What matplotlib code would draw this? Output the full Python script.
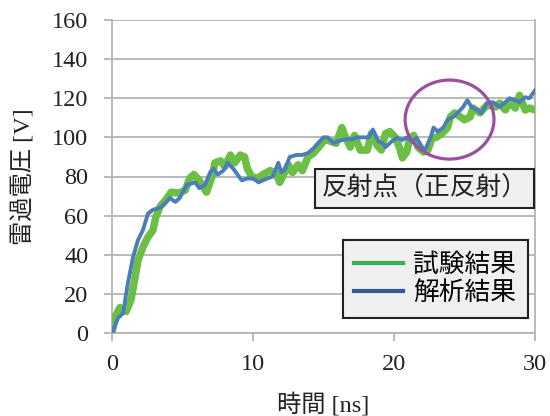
import numpy as np
import matplotlib
matplotlib.use('Agg')
import matplotlib.pyplot as plt
from matplotlib.lines import Line2D
from matplotlib.patches import Ellipse

# test result (green)
t_test = [0, 0.2, 0.57, 1.0, 1.35, 1.6, 1.84, 2.2, 2.55, 2.9, 3.1, 3.4, 3.8, 4.2, 4.7,
          5.2, 5.5, 5.8, 6.2, 6.7, 7.1, 7.3, 7.7, 8.0, 8.4, 8.7, 9.1, 9.4, 9.6, 9.9,
          10.3, 10.7, 11.2, 11.6, 11.9, 12.3, 12.5, 12.8, 13.2, 13.5, 13.9, 14.3, 14.6,
          15.1, 15.5, 15.9, 16.3, 16.5, 16.9, 17.2, 17.6, 18.1, 18.4, 18.8, 19.1, 19.4,
          19.7, 20.1, 20.4, 20.6, 20.9, 21.1, 21.4, 21.7, 22.1, 22.4, 22.7, 23.0, 23.4,
          23.8, 24.0, 24.3, 24.7, 25.0, 25.4, 25.6, 26.1, 26.6, 27.2, 27.5, 27.9, 28.2,
          28.6, 28.9, 29.3, 29.6, 30]
v_test = [0, 8, 13, 11, 17, 27, 37, 44, 49, 52.5, 59, 64.5, 68, 72, 71.5,
          73, 79, 81, 78, 72, 80, 87, 88, 85, 91, 87, 91, 90, 84, 80,
          79, 81, 83, 82, 77, 83, 86, 82, 86, 83, 90, 92, 94.5,
          99, 98, 97, 105, 101, 95, 101, 93.5, 93.5, 102, 96, 93.5, 102,
          103, 100, 94.5, 89.5, 92.5, 98.7, 101, 95, 92.5, 93.5, 99.7, 100, 102,
          105, 110.5, 112.5, 110.5, 109, 110.5, 115, 112.5, 116.5, 115.5, 117.5, 114, 118,
          115, 121.5, 114, 115, 114]

# analysis result (blue)
t_sim = [0, 0.43, 0.78, 1.13, 1.5, 1.84, 2.2, 2.55, 2.9, 3.4, 3.8, 4.1, 4.5, 4.8, 5.3,
         5.9, 6.2, 6.6, 6.95, 7.2, 7.5, 7.9, 8.2, 8.6, 8.9, 9.2, 9.6, 10, 10.4, 11,
         11.4, 11.8, 12.0, 12.3, 12.6, 13.1, 13.5, 13.9, 14.3, 14.6, 15, 15.3, 15.7, 16,
         16.5, 17, 17.4, 17.8, 18.2, 18.5, 18.9, 19.2, 19.4, 19.8, 20.2, 20.6, 20.9,
         21.3, 21.6, 22, 22.2, 22.6, 22.8, 23.1, 23.5, 23.8, 24.2, 24.5, 24.9, 25.2,
         25.5, 25.9, 26.2, 26.6, 27, 27.5, 27.9, 28.2, 28.6, 28.9, 29.3, 29.6, 30]
v_sim = [0, 7.7, 10, 25.6, 39, 47.5, 52.7, 61, 63, 64, 66.5, 69, 67, 69, 75.7,
         77, 74, 75.7, 82, 84, 81, 83, 87, 84, 81, 78, 79, 79, 77, 79,
         80, 87, 82, 84, 90, 91, 91, 92, 94.5, 97, 100, 100, 97, 98,
         99, 99, 100, 100, 100, 104, 98, 97, 95, 97.7, 99.7, 98.7, 100,
         97.7, 99.7, 95, 93.5, 100, 105, 103, 105, 109, 110.5, 112.5, 115.5, 119,
         115.5, 114, 112.5, 117.5, 118, 115.5, 118, 120, 119, 118, 120.5, 120, 124]

x_ticks = [0, 10, 20, 30]
y_ticks = [0, 20, 40, 60, 80, 100, 120, 140, 160]
legend_labels = ['試験結果', '解析結果']
note_text = '反射点（正反射）'
circle_center = (23.94, 109.1)
circle_size = (6.3, 40.4)

fam = ['Liberation Serif', 'Noto Sans CJK JP']
cjk = ['Noto Sans CJK JP', 'Liberation Serif']
grid_c = '#B4B4B4'

fig = plt.figure(figsize=(5.5, 4.16), dpi=100)
ax = fig.add_axes([112 / 550, 83 / 416, 423 / 550, 313 / 416])

ax.plot(t_test, v_test, color='#6CBF45', lw=5.4, solid_joinstyle='round', solid_capstyle='round', zorder=3)
ax.plot(t_sim, v_sim, color='#4A7EBB', lw=2.8, solid_joinstyle='round', zorder=4)

ax.set_xlim(0, 30)
ax.set_ylim(0, 160)
ax.set_xticks(x_ticks)
ax.set_yticks(y_ticks)
ax.yaxis.grid(True, color=grid_c, lw=1.3)
ax.set_axisbelow(True)
for s in ['left', 'bottom', 'right']:
    ax.spines[s].set_color(grid_c)
    ax.spines[s].set_linewidth(1.3)
ax.spines['top'].set_visible(False)
ax.tick_params(axis='both', colors=grid_c, width=1.3, length=6, direction='out')
ax.tick_params(axis='y', pad=11)
ax.tick_params(axis='x', pad=9)
for lab in ax.get_xticklabels() + ax.get_yticklabels():
    lab.set_family(fam)
    lab.set_fontsize(17.5)
    lab.set_color('#222222')

ax.set_xlabel('時間 [ns]', family=fam, fontsize=17.5, color='#222222', labelpad=13)
ax.set_ylabel('雷過電圧 [V]', family=fam, fontsize=17.5, color='#222222', labelpad=12)

ell = Ellipse(circle_center, circle_size[0], circle_size[1], fill=False,
              edgecolor='#9B4FA0', lw=2.3, zorder=5)
ax.add_patch(ell)

ax.text(0.738, 0.463, note_text, transform=ax.transAxes, ha='center', va='center',
        family=cjk, fontsize=18.5, color='#222222', zorder=6,
        bbox=dict(boxstyle='square,pad=0.25', fc='#F0F0F0', ec='#222222', lw=1.5))

handles = [Line2D([], [], color='#3DAE55', lw=3),
           Line2D([], [], color='#2F5A9A', lw=3)]
leg = ax.legend(handles, legend_labels, loc='lower right', bbox_to_anchor=(0.983, 0.048),
                prop={'family': cjk, 'size': 18.5}, frameon=True, fancybox=False,
                handlelength=1.9, handletextpad=0.4, labelspacing=0.1,
                borderpad=0.45, borderaxespad=0)
leg.get_frame().set_facecolor('#F0F0F0')
leg.get_frame().set_edgecolor('#222222')
leg.get_frame().set_linewidth(1.5)
leg.get_frame().set_alpha(1)
leg.set_zorder(6)

fig.savefig('out.png', dpi=100)
